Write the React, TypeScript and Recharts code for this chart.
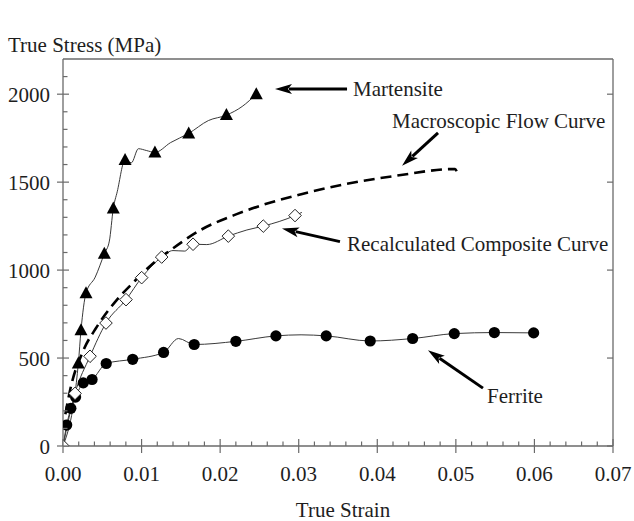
import React from 'react';
import {
  ComposedChart, Line, Scatter, XAxis, YAxis, ReferenceLine, ReferenceDot,
} from 'recharts';

// ---------- data ----------
// Martensite (filled triangles); "marked" flags which points carry a symbol
const martensiteStrain = [0, 0.00195, 0.00229, 0.00293, 0.0041, 0.00526, 0.0059, 0.0064, 0.0069, 0.0079, 0.0087, 0.0096, 0.0106, 0.0117, 0.0137, 0.016, 0.0185, 0.0208, 0.0228, 0.0246];
const martensiteStress = [0, 469, 658, 869, 960, 1093, 1165, 1350, 1445, 1626, 1610, 1690, 1680, 1669, 1725, 1777, 1850, 1881, 1930, 2000];
const martensiteMarked = [0, 1, 1, 1, 0, 1, 0, 1, 0, 1, 0, 0, 0, 1, 0, 1, 0, 1, 0, 1];

// Recalculated composite curve (open diamonds)
const compositeStrain = [0, 0.00153, 0.00344, 0.00547, 0.00802, 0.01001, 0.01256, 0.014, 0.0155, 0.01655, 0.0183, 0.02104, 0.0234, 0.02549, 0.02953, 0.0304];
const compositeStress = [0, 299, 510, 699, 832, 957, 1074, 1111, 1108, 1147, 1145, 1193, 1228, 1250, 1310, 1328];
const compositeMarked = [1, 1, 1, 1, 1, 1, 1, 0, 0, 1, 0, 1, 0, 1, 1, 0];

// Ferrite (filled circles)
const ferriteStrain = [0, 0.00047, 0.001, 0.0016, 0.00258, 0.0037, 0.0055, 0.00887, 0.0128, 0.0147, 0.0167, 0.022, 0.0271, 0.0303, 0.0335, 0.0391, 0.0445, 0.0498, 0.0549, 0.0599];
const ferriteStress = [0, 119, 214, 278, 359, 378, 469, 493, 532, 611, 577, 595, 626, 632, 626, 597, 611, 639, 645, 643];
const ferriteMarked = [0, 1, 1, 1, 1, 1, 1, 1, 1, 0, 1, 1, 1, 0, 1, 1, 1, 1, 1, 1];

// Macroscopic flow curve (dashed)
const flowStrain = [0.0003, 0.0009, 0.0026, 0.0043, 0.0068, 0.009, 0.0119, 0.0136, 0.0174, 0.0221, 0.0261, 0.0302, 0.0361, 0.0425, 0.0499, 0.0501];
const flowStress = [180, 317, 544, 677, 828, 932, 1055, 1111, 1225, 1318, 1380, 1430, 1490, 1537, 1575, 1562];

// axes
const strainTicks = [0, 0.01, 0.02, 0.03, 0.04, 0.05, 0.06, 0.07];
const stressTicks = [0, 500, 1000, 1500, 2000];
const strainMinorStep = 0.002;
const stressMinorStep = 100;
const strainDomain = [0, 0.07];
const stressDomain = [0, 2200];

// annotations
const annotationLabels = ['Martensite', 'Macroscopic Flow Curve', 'Recalculated Composite Curve', 'Ferrite'];
const annotationTextStrain = [0.03691, 0.04187, 0.03615, 0.05396];
const annotationTextStress = [1990, 1805, 1111, 242];
const arrowFromStrain = [0.03615, 0.04773, 0.03525, 0.05345];
const arrowFromStress = [2030, 1780, 1162, 329];
const arrowToStrain = [0.02698, 0.04315, 0.02787, 0.04645];
const arrowToStress = [2030, 1593, 1236, 544];

// ---------- helpers ----------
const toPoints = (xs: number[], ys: number[]) => xs.map((x, i) => ({ x, y: ys[i] }));
const toMarked = (xs: number[], ys: number[], m: number[]) =>
  xs.map((x, i) => ({ x, y: ys[i], m: m[i] })).filter((p) => p.m === 1);

const martensiteLine = toPoints(martensiteStrain, martensiteStress);
const martensiteMarks = toMarked(martensiteStrain, martensiteStress, martensiteMarked);
const compositeLine = toPoints(compositeStrain, compositeStress);
const compositeMarks = toMarked(compositeStrain, compositeStress, compositeMarked);
const ferriteLine = toPoints(ferriteStrain, ferriteStress);
const ferriteMarks = toMarked(ferriteStrain, ferriteStress, ferriteMarked);
const flowLine = toPoints(flowStrain, flowStress);

const nStrainMinor = Math.round(strainDomain[1] / strainMinorStep);
const strainAllTicks = Array.from({ length: nStrainMinor + 1 }, (_, i) => +(i * strainMinorStep).toFixed(4));
const nStressMinor = Math.round(stressDomain[1] / stressMinorStep);
const stressAllTicks = Array.from({ length: nStressMinor }, (_, i) => i * stressMinorStep);

const FONT = '"Liberation Serif", "Times New Roman", serif';
const AXIS = '#6a6a6a';
const INK = '#1e1e1e';

const isMajorStrain = (v: number) => strainTicks.some((t) => Math.abs(t - v) < 1e-9);
const isMajorStress = (v: number) => stressTicks.some((t) => Math.abs(t - v) < 1e-9);

const BottomTick = (p: any) => {
  const { x, y, payload } = p;
  const v = payload.value;
  const major = isMajorStrain(v);
  return (
    <g>
      <line x1={x} x2={x} y1={y - (major ? 7 : 4.5)} y2={y + (major ? 7 : 0)} stroke={AXIS} strokeWidth={1.2} />
      {major && (
        <text x={x} y={y + 35} textAnchor="middle" fontFamily={FONT} fontSize={21} fill={INK}>
          {v.toFixed(2)}
        </text>
      )}
    </g>
  );
};

const LeftTick = (p: any) => {
  const { x, y, payload } = p;
  const v = payload.value;
  const major = isMajorStress(v);
  return (
    <g>
      <line x1={x - (major ? 6 : 0)} x2={x + (major ? 6 : 4.5)} y1={y} y2={y} stroke={AXIS} strokeWidth={1.2} />
      {major && (
        <text x={x - 13} y={y + 7.5} textAnchor="end" fontFamily={FONT} fontSize={21} fill={INK}>
          {v}
        </text>
      )}
    </g>
  );
};

const TopTick = (p: any) => {
  const { x, y } = p;
  return <line x1={x} x2={x} y1={y} y2={y + 6} stroke={AXIS} strokeWidth={1.2} />;
};

const RightTick = (p: any) => {
  const { x, y } = p;
  return <line x1={x - 6} x2={x} y1={y} y2={y} stroke={AXIS} strokeWidth={1.2} />;
};

const Triangle = (p: any) => {
  const { cx, cy } = p;
  return <polygon points={`${cx},${cy - 7} ${cx - 6.5},${cy + 5} ${cx + 6.5},${cy + 5}`} fill="#000" />;
};
const Diamond = (p: any) => {
  const { cx, cy } = p;
  const r = 6.3;
  return (
    <polygon
      points={`${cx},${cy - r} ${cx + r},${cy} ${cx},${cy + r} ${cx - r},${cy}`}
      fill="#fff"
      stroke="#222"
      strokeWidth={1}
    />
  );
};
const Dot = (p: any) => {
  const { cx, cy } = p;
  return <circle cx={cx} cy={cy} r={5.6} fill="#000" />;
};

const Arrow = (p: any) => {
  const { x1, y1, x2, y2 } = p;
  const dx = x2 - x1;
  const dy = y2 - y1;
  const len = Math.sqrt(dx * dx + dy * dy) || 1;
  const ux = dx / len;
  const uy = dy / len;
  const headL = 17;
  const headW = 5;
  const bx = x2 - ux * headL;
  const by = y2 - uy * headL;
  const nx = -uy;
  const ny = ux;
  return (
    <g>
      <line x1={x1} y1={y1} x2={bx + ux * 3} y2={by + uy * 3} stroke="#000" strokeWidth={3} />
      <polygon
        points={`${x2},${y2} ${bx + nx * headW},${by + ny * headW} ${bx + ux * 4},${by + uy * 4} ${bx - nx * headW},${by - ny * headW}`}
        fill="#000"
      />
    </g>
  );
};

const makeTextShape = (label: string) => (p: any) => (
  <text x={p.cx} y={p.cy} fontFamily={FONT} fontSize={21} fill={INK}>
    {label}
  </text>
);

export default function App() {
  return (
    <div style={{ position: 'absolute', left: 0, top: 0, width: 634, height: 521, background: '#fff' }}>
      <ComposedChart
        width={634}
        height={521}
        margin={{ top: 58, right: 20, bottom: 74, left: 62 }}
      >
        <XAxis
          dataKey="x"
          type="number"
          domain={strainDomain}
          ticks={strainAllTicks}
          interval={0}
          height={1}
          tickSize={0}
          tickMargin={0}
          tickLine={false}
          tick={BottomTick}
          axisLine={{ stroke: AXIS, strokeWidth: 1.3 }}
          allowDataOverflow
          label={() => (
            <text x={343} y={517} textAnchor="middle" fontFamily={FONT} fontSize={21} fill={INK}>
              True Strain
            </text>
          )}
        />
        <XAxis
          xAxisId="top"
          orientation="top"
          type="number"
          domain={strainDomain}
          ticks={strainTicks}
          interval={0}
          height={1}
          tickSize={0}
          tickMargin={0}
          tickLine={false}
          tick={TopTick}
          axisLine={{ stroke: AXIS, strokeWidth: 1.3 }}
          allowDataOverflow
        />
        <YAxis
          dataKey="y"
          type="number"
          domain={stressDomain}
          ticks={stressAllTicks}
          interval={0}
          width={1}
          tickSize={0}
          tickMargin={0}
          tickLine={false}
          tick={LeftTick}
          axisLine={{ stroke: AXIS, strokeWidth: 1.3 }}
          allowDataOverflow
          label={() => (
            <text x={8} y={52} fontFamily={FONT} fontSize={21} fill={INK}>
              True Stress (MPa)
            </text>
          )}
        />
        <YAxis
          yAxisId="right"
          orientation="right"
          type="number"
          domain={stressDomain}
          ticks={stressTicks}
          interval={0}
          width={1}
          tickSize={0}
          tickMargin={0}
          tickLine={false}
          tick={RightTick}
          axisLine={{ stroke: AXIS, strokeWidth: 1.3 }}
          allowDataOverflow
        />

        <Line data={ferriteLine} dataKey="y" type="monotone" stroke="#3a3a3a" strokeWidth={1} dot={false} activeDot={false} isAnimationActive={false} />
        <Line data={compositeLine} dataKey="y" type="monotone" stroke="#3a3a3a" strokeWidth={1} dot={false} activeDot={false} isAnimationActive={false} />
        <Line data={martensiteLine} dataKey="y" type="monotone" stroke="#3a3a3a" strokeWidth={1} dot={false} activeDot={false} isAnimationActive={false} />
        <Line data={flowLine} dataKey="y" type="monotone" stroke="#000" strokeWidth={2.6} strokeDasharray="11 6" dot={false} activeDot={false} isAnimationActive={false} />

        <Scatter data={ferriteMarks} dataKey="y" shape={Dot} isAnimationActive={false} />
        <Scatter data={compositeMarks} dataKey="y" shape={Diamond} isAnimationActive={false} />
        <Scatter data={martensiteMarks} dataKey="y" shape={Triangle} isAnimationActive={false} />

        {annotationLabels.map((lab, i) => (
          <ReferenceLine
            key={'a' + i}
            segment={[
              { x: arrowFromStrain[i], y: arrowFromStress[i] },
              { x: arrowToStrain[i], y: arrowToStress[i] },
            ]}
            shape={Arrow}
            ifOverflow="visible"
          />
        ))}
        {annotationLabels.map((lab, i) => (
          <ReferenceDot
            key={'t' + i}
            x={annotationTextStrain[i]}
            y={annotationTextStress[i]}
            r={0}
            shape={makeTextShape(lab)}
            ifOverflow="visible"
          />
        ))}
      </ComposedChart>
    </div>
  );
}
